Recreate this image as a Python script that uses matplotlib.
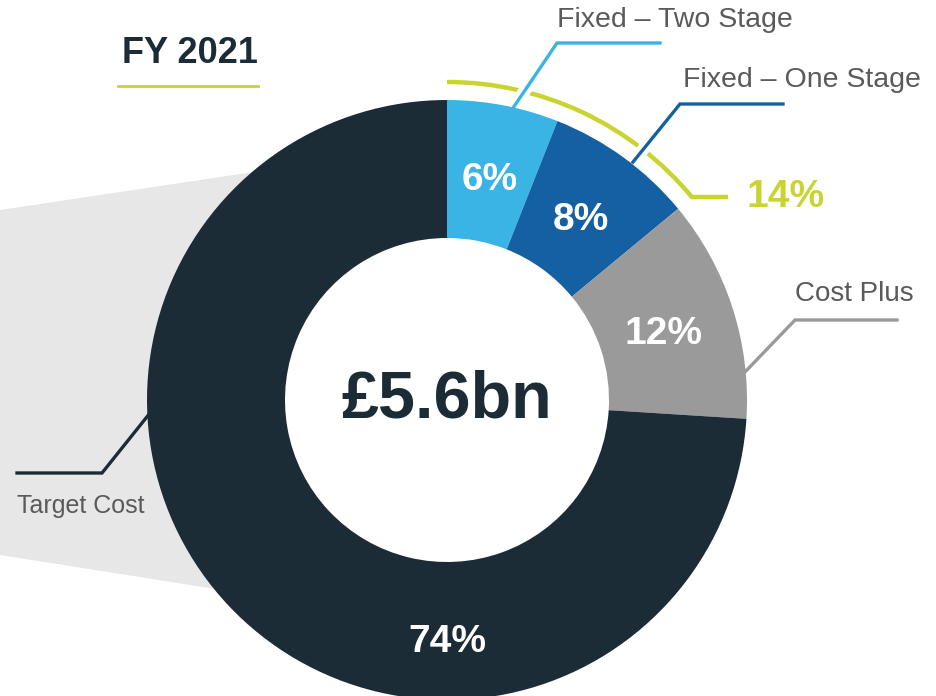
import numpy as np
import matplotlib.pyplot as plt
from matplotlib.patches import Arc, Polygon
import matplotlib.patheffects as pe

plt.rcParams['font.family'] = ['Liberation Sans', 'DejaVu Sans']

# data
categories = ['Fixed – Two Stage', 'Fixed – One Stage', 'Cost Plus', 'Target Cost']
shares = [6, 8, 12, 74]
colors = ['#3ab4e4', '#1560a3', '#9a9a9b', '#1b2c37']
total_label = '£5.6bn'
year_label = 'FY 2021'
fixed_total = shares[0] + shares[1]

W, H = 937, 696
navy = '#1b2c37'
lime = '#c9d430'
grey_text = '#5a5a5a'

def Y(py):
    # pixel row -> data y
    return H - py

fig = plt.figure(figsize=(W / 100, H / 100), dpi=100)
ax = fig.add_axes([0, 0, 1, 1])

cx, cy = 447, Y(400)
r_out, r_in = 300, 162

# grey band coming in from the left, tucked under the ring
band = Polygon([(0, Y(210)), (260, Y(171)), (260, Y(596)), (0, Y(555))],
               closed=True, facecolor='#e7e7e7', edgecolor='none', zorder=0)
ax.add_patch(band)

# donut
ax.pie(shares, colors=colors, startangle=90, counterclock=False,
       center=(cx, cy), radius=r_out,
       wedgeprops=dict(width=r_out - r_in, edgecolor='none', zorder=3))

# percentage labels inside the ring
cum = np.cumsum([0] + shares[:-1])
for i, (s, c0) in enumerate(zip(shares, cum)):
    frac = (c0 + s / 2) / 100
    theta = np.deg2rad(90 - 360 * frac)
    rr = 228
    if i == len(shares) - 1:
        theta = np.deg2rad(-90)
        rr = 238
    ax.text(cx + rr * np.cos(theta), cy + rr * np.sin(theta) - 4, f'{s}%',
            color='white', fontsize=28, fontweight='bold',
            ha='center', va='center', zorder=5)

# centre total
ax.text(cx, Y(418), total_label, color=navy, fontsize=48, fontweight='bold',
        ha='center', va='baseline', zorder=5)

# 14% arc around the fixed price slices
r_arc = 318
arc = Arc((cx, cy), 2 * r_arc, 2 * r_arc, theta1=90 - 3.6 * fixed_total, theta2=90,
          color=lime, lw=3.2, zorder=1)
ax.add_patch(arc)
t_end = np.deg2rad(90 - 3.6 * fixed_total)
ex, ey = cx + r_arc * np.cos(t_end), cy + r_arc * np.sin(t_end)
ax.plot([ex - 1, 728], [ey, ey], color=lime, lw=3.2,
        solid_capstyle='butt', zorder=1)
ax.text(747, Y(207), f'{fixed_total}%', color=lime, fontsize=28,
        fontweight='bold', ha='left', va='baseline', zorder=5)

# leader lines and category names
halo = [pe.Stroke(linewidth=9, foreground='white'), pe.Normal()]
leaders = [
    ([513, 557, 660], [108, 43, 43]),
    ([633, 680, 783], [162, 104, 104]),
    ([745, 795, 897], [372, 320, 320]),
    ([150, 102, 17], [413, 473, 473]),
]
text_pos = [(557, 27, 20.5), (683, 87, 20.5), (795, 301, 20), (17, 513, 18)]
for i, (cat, col, (lx, ly), (tx, ty, fs)) in enumerate(
        zip(categories, colors, leaders, text_pos)):
    effects = halo if i < 2 else None
    ax.plot(lx, [Y(v) for v in ly], color=col, lw=2.4, zorder=2,
            path_effects=effects, solid_joinstyle='miter')
    ax.text(tx, Y(ty), cat, color=grey_text, fontsize=fs,
            ha='left', va='baseline', zorder=5)

# title with underline
ax.text(122, Y(63), year_label, color=navy, fontsize=26, fontweight='bold',
        ha='left', va='baseline')
ax.plot([118, 258], [Y(86), Y(86)], color=lime, lw=2)

ax.set_xlim(0, W)
ax.set_ylim(0, H)
ax.set_aspect('auto')
ax.axis('off')

fig.savefig('out.png', dpi=100, facecolor='white')
